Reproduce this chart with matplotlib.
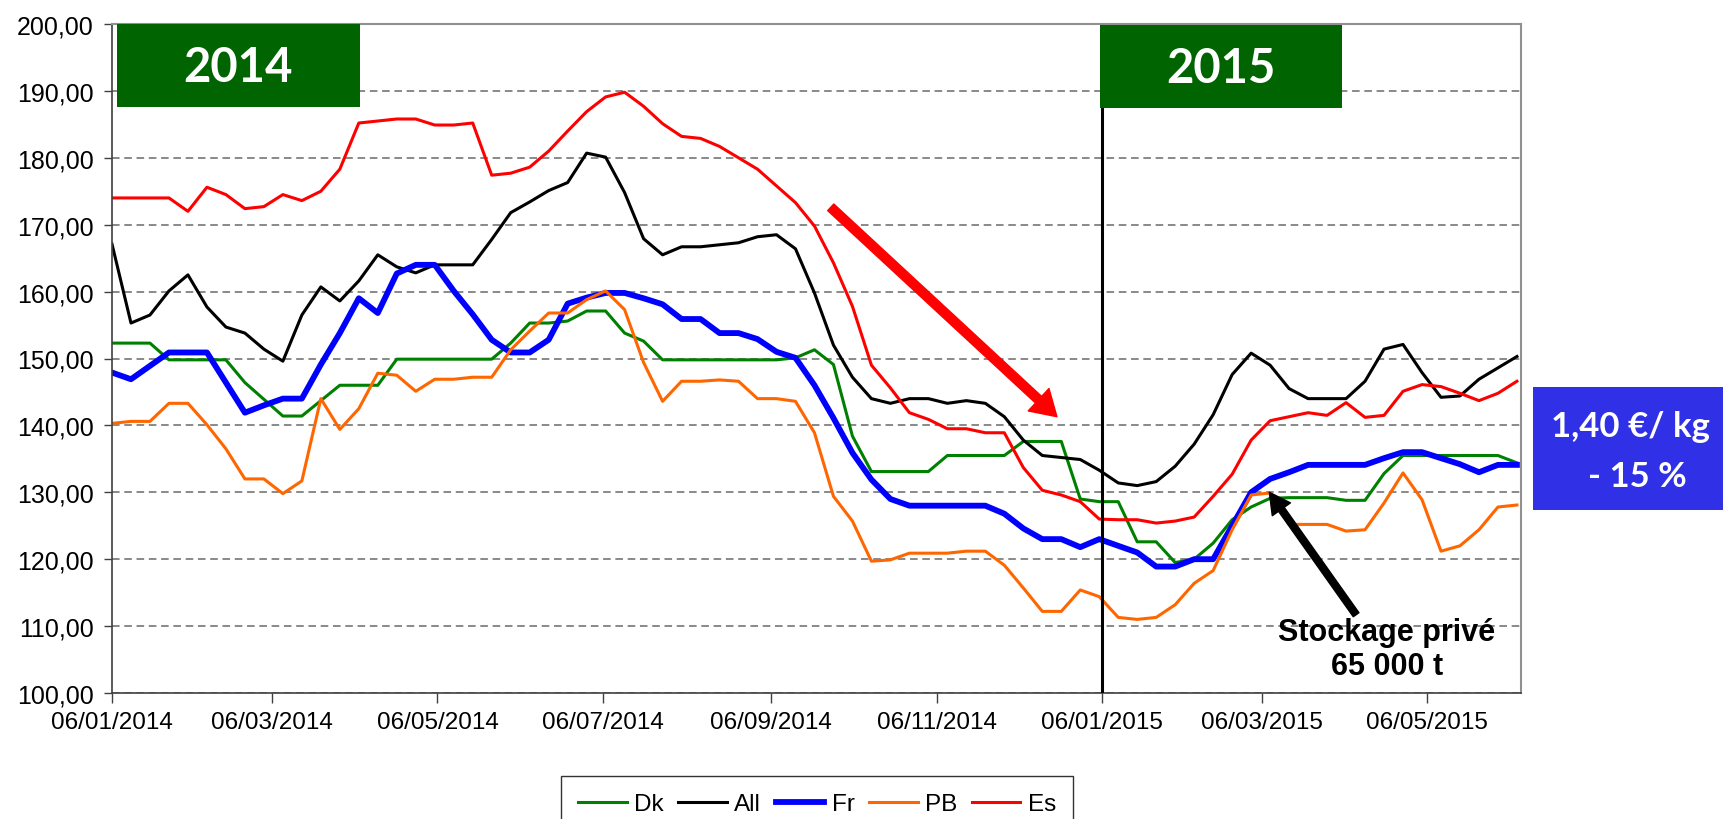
import matplotlib
matplotlib.use('Agg')
import matplotlib.pyplot as plt
from matplotlib.patches import Rectangle
from matplotlib.ticker import FuncFormatter
import numpy as np
import pandas as pd

plt.rcParams['font.family'] = ['Liberation Sans', 'DejaVu Sans']

# weekly prices, first week 06/01/2014
first_week = '2014-01-06'
n_weeks = 75
dates = pd.date_range(first_week, periods=n_weeks, freq='7D')

series_names = ['Dk', 'All', 'Fr', 'PB', 'Es']
series_colors = ['#008000', '#000000', '#0000ff', '#ff6600', '#ff0000']

dk = [152.3, 152.3, 152.3, 149.8, 149.8, 149.8, 149.8, 146.4, 143.9, 141.4,
      141.4, 143.7, 146.0, 146.0, 146.0, 149.9, 149.9, 149.9, 149.9, 149.9,
      149.9, 152.3, 155.3, 155.3, 155.6, 157.1, 157.1, 153.8, 152.6, 149.8,
      149.8, 149.8, 149.8, 149.8, 149.8, 149.8, 150.1, 151.3, 149.1, 138.4,
      133.1, 133.1, 133.1, 133.1, 135.5, 135.5, 135.5, 135.5, 137.6, 137.6,
      137.6, 129.0, 128.6, 128.6, 122.6, 122.6, 119.5, 120.0, 122.4, 125.9,
      127.8, 129.1, 129.2, 129.2, 129.2, 128.8, 128.8, 132.8, 135.5, 135.5,
      135.5, 135.5, 135.5, 135.5, 134.4]
all_ = [167.1, 155.3, 156.5, 160.1, 162.5, 157.7, 154.7, 153.8, 151.4, 149.6,
        156.5, 160.7, 158.6, 161.6, 165.5, 163.7, 162.8, 164.0, 164.0, 164.0,
        167.8, 171.8, 173.4, 175.1, 176.3, 180.7, 180.1, 174.8, 167.9, 165.5,
        166.7, 166.7, 167.0, 167.3, 168.2, 168.5, 166.4, 159.8, 152.0, 147.2,
        144.0, 143.3, 144.0, 144.0, 143.3, 143.7, 143.3, 141.3, 137.8, 135.5,
        135.2, 134.9, 133.3, 131.4, 131.0, 131.6, 133.9, 137.2, 141.6, 147.6,
        150.8, 149.0, 145.5, 144.0, 144.0, 144.0, 146.6, 151.4, 152.1, 147.9,
        144.2, 144.4, 146.9, 148.6, 150.3]
fr = [147.9, 146.9, 148.9, 150.9, 150.9, 150.9, 146.4, 141.9, 143.0, 144.0,
      144.0, 149.1, 153.8, 159.0, 156.8, 162.7, 164.0, 164.0, 160.1, 156.6,
      152.8, 150.9, 150.9, 152.8, 158.2, 159.1, 159.8, 159.8, 159.0, 158.1,
      155.9, 155.9, 153.8, 153.8, 152.9, 151.0, 150.1, 146.0, 141.1, 135.9,
      131.9, 129.0, 128.0, 128.0, 128.0, 128.0, 128.0, 126.8, 124.6, 123.0,
      123.0, 121.8, 123.0, 122.0, 121.0, 118.9, 118.9, 120.0, 120.0, 125.0,
      130.0, 132.0, 133.0, 134.1, 134.1, 134.1, 134.1, 135.1, 136.0, 136.0,
      135.1, 134.2, 133.0, 134.1, 134.1]
pb = [140.3, 140.6, 140.6, 143.3, 143.3, 140.1, 136.5, 132.0, 132.0, 129.8,
      131.7, 144.0, 139.4, 142.5, 147.8, 147.5, 145.1, 146.9, 146.9, 147.2,
      147.2, 151.3, 154.1, 156.8, 156.8, 158.8, 160.1, 157.3, 149.4, 143.6,
      146.6, 146.6, 146.8, 146.6, 144.0, 144.0, 143.6, 138.9, 129.4, 125.7,
      119.7, 119.9, 120.9, 120.9, 120.9, 121.2, 121.2, 119.1, 115.7, 112.2,
      112.2, 115.4, 114.4, 111.3, 111.0, 111.3, 113.2, 116.4, 118.3, 124.4,
      129.6, 129.9, 125.2, 125.2, 125.2, 124.2, 124.4, 128.4, 132.9, 128.9,
      121.2, 122.0, 124.4, 127.8, 128.1]
es = [174.0, 174.0, 174.0, 174.0, 172.0, 175.6, 174.5, 172.4, 172.7, 174.5,
      173.6, 175.0, 178.3, 185.2, 185.5, 185.8, 185.8, 184.9, 184.9, 185.2,
      177.4, 177.7, 178.6, 181.0, 184.0, 186.9, 189.1, 189.8, 187.7, 185.1,
      183.2, 182.9, 181.7, 180.0, 178.3, 175.8, 173.3, 169.8, 164.3, 157.8,
      149.0, 145.6, 141.9, 140.9, 139.5, 139.5, 138.9, 138.9, 133.7, 130.3,
      129.6, 128.6, 126.0, 125.9, 125.9, 125.4, 125.7, 126.3, 129.4, 132.7,
      137.8, 140.7, 141.3, 141.9, 141.5, 143.4, 141.2, 141.5, 145.1, 146.1,
      145.8, 144.8, 143.7, 144.8, 146.6]

tick_dates = ['2014-01-06', '2014-03-06', '2014-05-06', '2014-07-06', '2014-09-06',
              '2014-11-06', '2015-01-06', '2015-03-06', '2015-05-06']
year_split = '2015-01-06'

# annotations: (day offset from first week, value)
red_arrow_from = (265, 172.6)
red_arrow_to = (348.4, 141.3)
black_arrow_from = (458.7, 111.7)
black_arrow_to = (426.7, 130.0)
stock_text_at = (470, 106.6)


def day(d):
    return dates[0] + pd.Timedelta(days=d)


fig = plt.figure(figsize=(17.24, 8.2), dpi=100)
ax = fig.add_axes([112 / 1724, 1 - 694 / 820, 1409 / 1724, 669 / 820])

widths = [2.2, 2.2, 4.2, 2.2, 2.2]
for name, vals, col, lw in zip(series_names, [dk, all_, fr, pb, es], series_colors, widths):
    ax.plot(dates, vals, color=col, lw=lw, label=name)

ax.set_ylim(100, 200)
ax.set_xlim(dates[0], dates[-1] + pd.Timedelta(days=1.5))
ax.set_yticks(np.arange(100, 201, 10))
ax.yaxis.set_major_formatter(FuncFormatter(lambda v, p: f'{v:.2f}'.replace('.', ',')))
ticks = pd.to_datetime(tick_dates)
ax.set_xticks(ticks)
ax.set_xticklabels([t.strftime('%d/%m/%Y') for t in ticks])

ax.set_axisbelow(True)
ax.yaxis.grid(True, linestyle=(0, (4.2, 2.6)), color='#808080', lw=1.3)
ax.tick_params(axis='y', direction='out', length=6, width=1, color='#404040', labelsize=18, pad=7)
ax.tick_params(axis='x', direction='out', length=7, width=1, color='#404040', labelsize=17.5, pad=6)
for s in ['left', 'bottom']:
    ax.spines[s].set_color('#404040')
    ax.spines[s].set_linewidth(1.2)
for s in ['top', 'right']:
    ax.spines[s].set_color('#909090')
    ax.spines[s].set_linewidth(1.5)

ax.axvline(pd.Timestamp(year_split), ymin=0, ymax=0.991, color='black', lw=2.2, zorder=5)

# year boxes
ax.add_patch(Rectangle((0.0035, 0.876), 0.1725, 0.124, transform=ax.transAxes,
                       facecolor='#006400', edgecolor='none', zorder=6, clip_on=False))
ax.text(0.0035 + 0.1725 / 2, 0.936, '2014', transform=ax.transAxes, ha='center', va='center',
        color='white', fontsize=34, fontweight='bold', family='Lato', zorder=7)
ax.add_patch(Rectangle((0.701, 0.874), 0.1718, 0.1245, transform=ax.transAxes,
                       facecolor='#006400', edgecolor='none', zorder=6, clip_on=False))
ax.text(0.701 + 0.1718 / 2, 0.934, '2015', transform=ax.transAxes, ha='center', va='center',
        color='white', fontsize=34, fontweight='bold', family='Lato', zorder=7)

# arrows
ax.annotate('', xy=(day(red_arrow_to[0]), red_arrow_to[1]),
            xytext=(day(red_arrow_from[0]), red_arrow_from[1]),
            arrowprops=dict(facecolor='#ff0000', edgecolor='#ff0000', width=6.5,
                            headwidth=22, headlength=18, shrink=0), zorder=8)
ax.annotate('', xy=(day(black_arrow_to[0]), black_arrow_to[1]),
            xytext=(day(black_arrow_from[0]), black_arrow_from[1]),
            arrowprops=dict(facecolor='black', edgecolor='black', width=5,
                            headwidth=16, headlength=15, shrink=0), zorder=8)
ax.text(day(stock_text_at[0]), stock_text_at[1], 'Stockage privé\n65 000 t',
        ha='center', va='center', fontsize=22, fontweight='bold', linespacing=1.2, zorder=8)

# price box on the right
fig.patches.append(Rectangle((1533 / 1724, 1 - 511 / 820), 1 - 1533 / 1724, 123 / 820,
                             transform=fig.transFigure, facecolor='#3030e6', edgecolor='none'))
fig.text(1630 / 1724, 1 - 427 / 820, '1,40 €/ kg', ha='center', va='center', color='white',
         fontsize=25, fontweight='bold', family='Lato')
fig.text(1637 / 1724, 1 - 477 / 820, '- 15 %', ha='center', va='center', color='white',
         fontsize=25, fontweight='bold', family='Lato')

leg = fig.legend(loc='upper center', bbox_to_anchor=(0.474, 1 - 777 / 820), ncol=5,
                 frameon=True, fancybox=False, edgecolor='black', fontsize=17.5,
                 handlelength=2.0, handletextpad=0.3, columnspacing=0.6, borderpad=0.7,
                 borderaxespad=0)
leg.get_frame().set_linewidth(1.0)

fig.savefig('out.png', dpi=100)
